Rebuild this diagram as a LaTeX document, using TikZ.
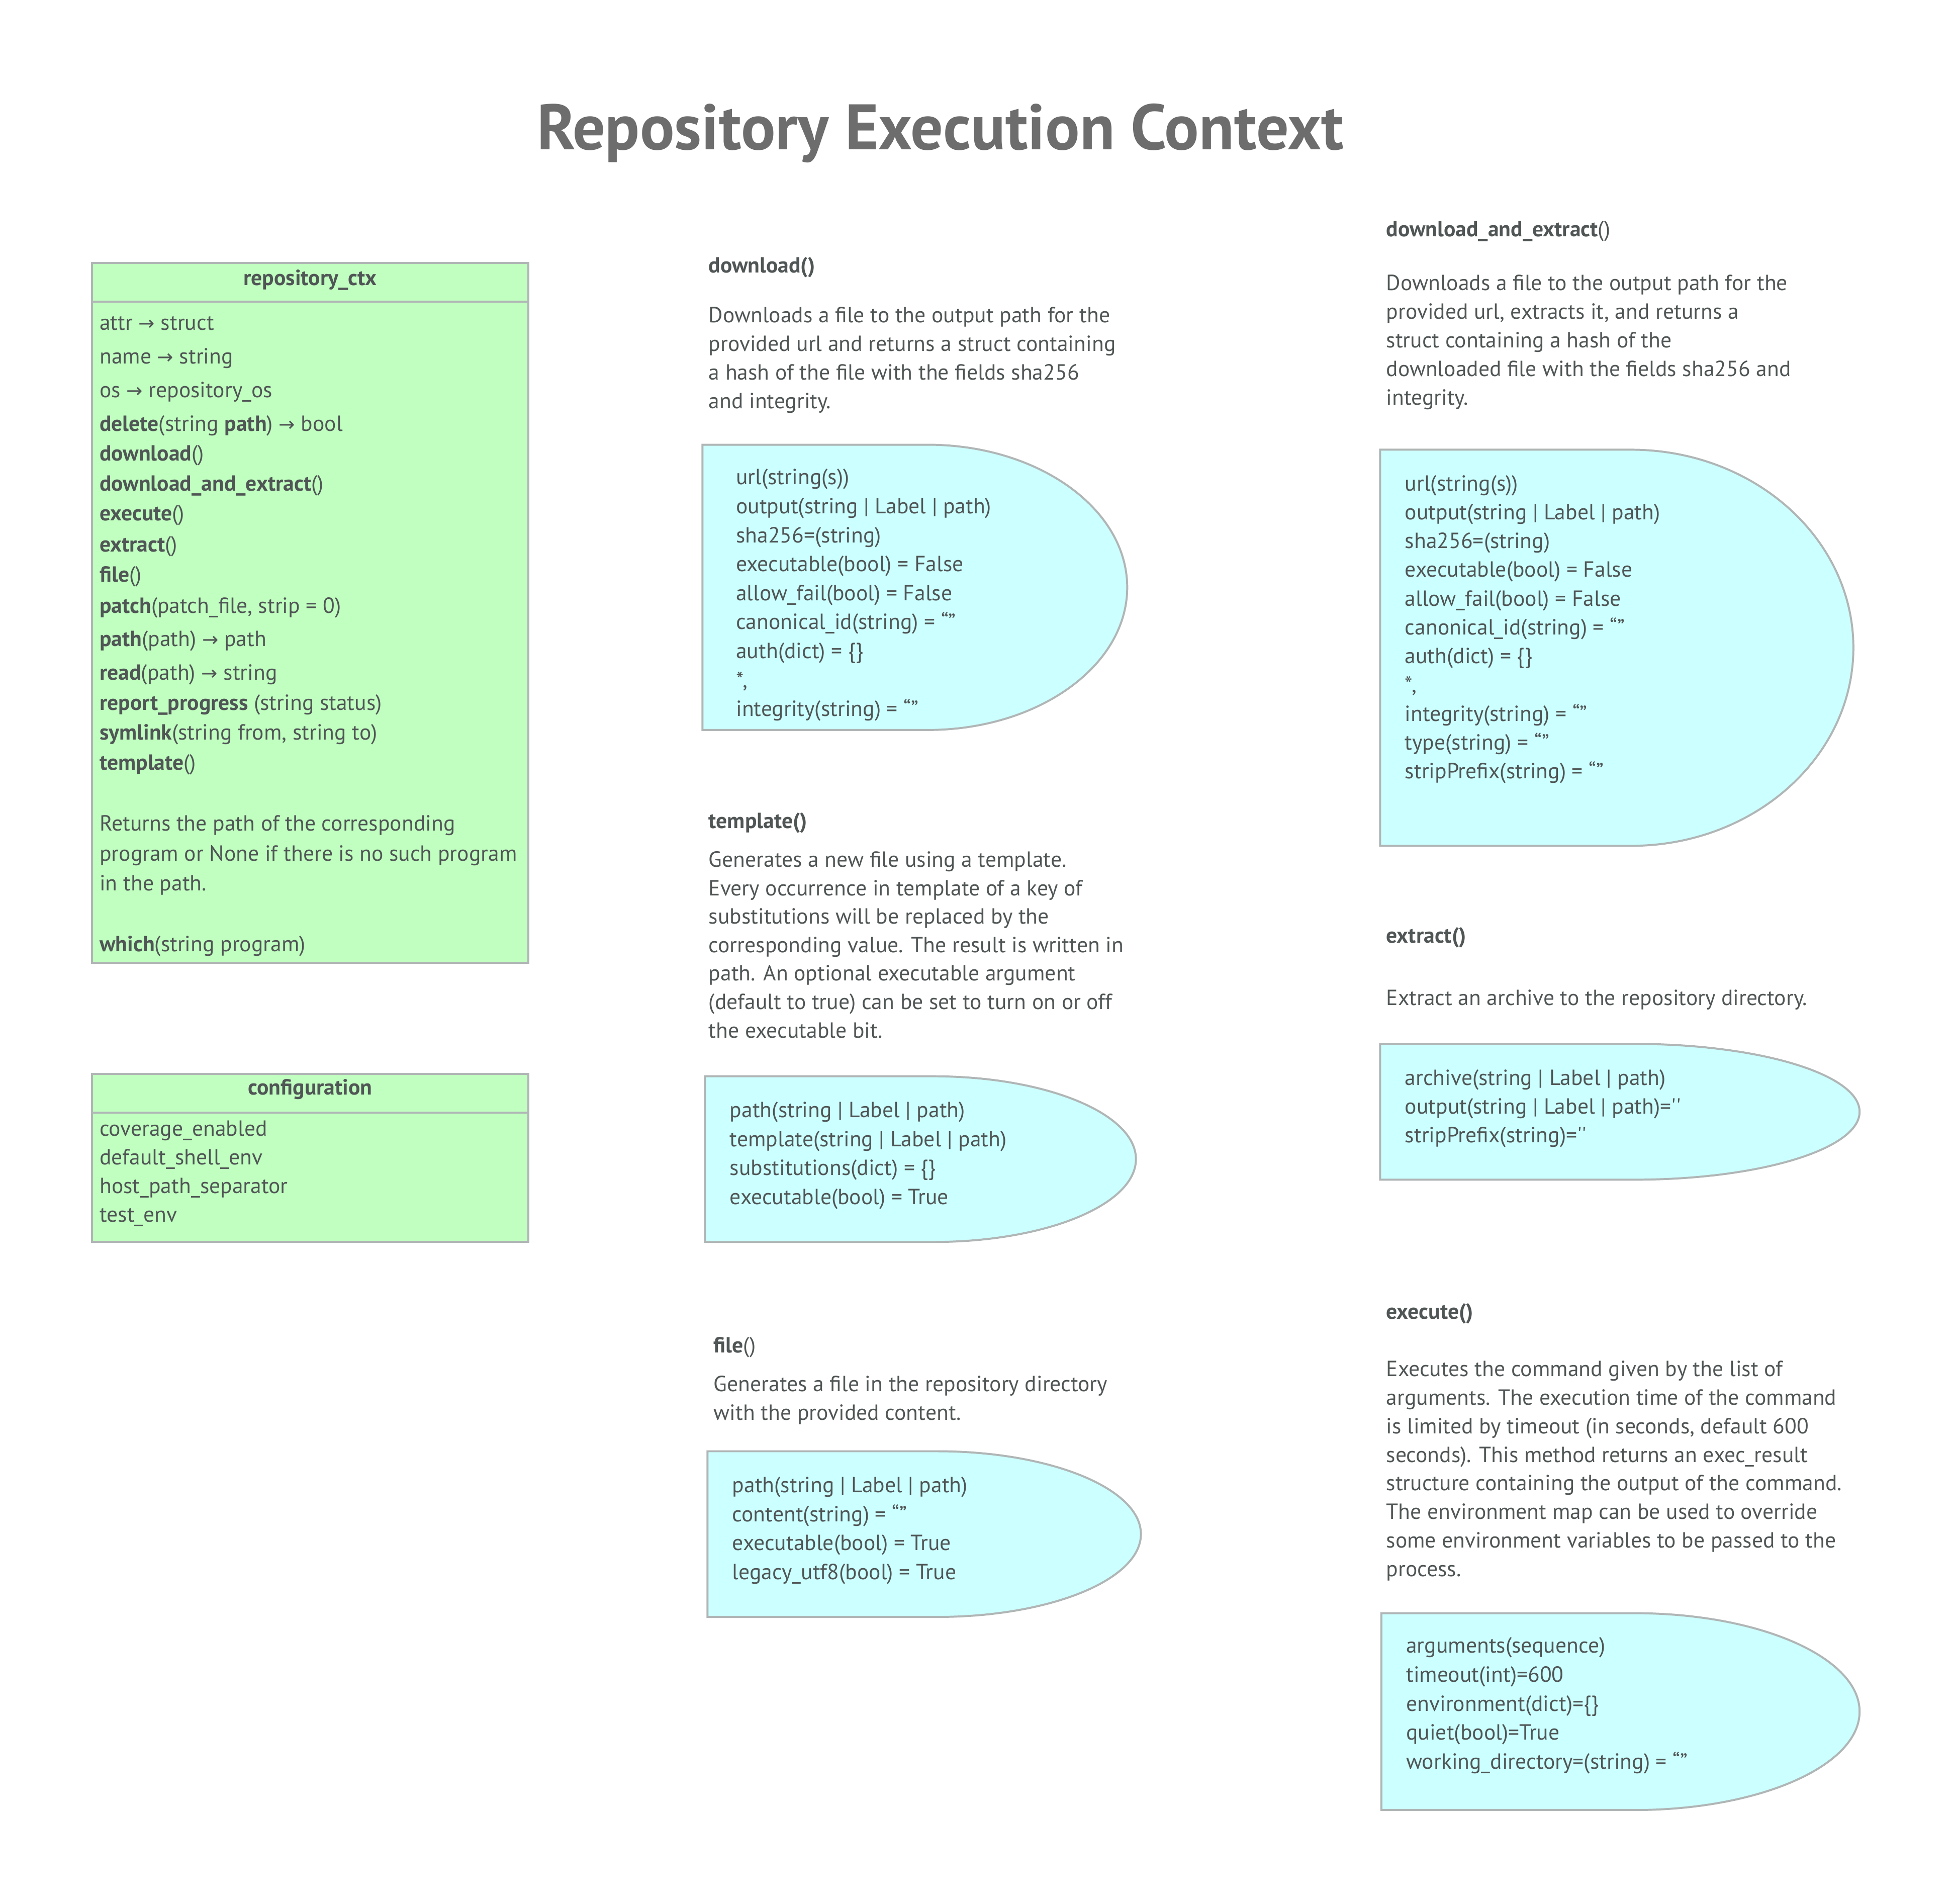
\documentclass[tikz,border=0pt]{standalone}
\usepackage{fontspec}
\setmainfont{PT Sans}
\newfontfamily\arrowfont{DejaVu Sans}
\definecolor{ink}{HTML}{505555}
\definecolor{titleink}{HTML}{6D6D6D}
\definecolor{edge}{HTML}{B0B5B5}
\definecolor{classgreen}{HTML}{C0FFC0}
\definecolor{paramcyan}{HTML}{CCFFFF}
\newcommand\ar{{\arrowfont\fontsize{7.8}{8}\selectfont →}}
\newcommand\dshape[5]{% name, x1, y1, x2, y2
  \pgfmathsetmacro\dxr{0.47*(#4-#2)}%
  \pgfmathsetmacro\dyr{(#5-#3)/2}%
  \pgfmathsetmacro\dxs{#4-\dxr}%
  \pgfmathsetmacro\dym{(#3+#5)/2}%
  \pgfmathsetmacro\dcx{\dxs+0.5523*\dxr}%
  \pgfmathsetmacro\dcya{\dym-0.5523*\dyr}%
  \pgfmathsetmacro\dcyb{\dym+0.5523*\dyr}%
  \path[dshapestyle] (#2,#3) -- (\dxs,#3) .. controls (\dcx,#3) and (#4,\dcya) .. (#4,\dym)
     .. controls (#4,\dcyb) and (\dcx,#5) .. (\dxs,#5) -- (#2,#5) -- cycle;
  \coordinate (#1) at (#2,#3);
}
\begin{document}
\begin{tikzpicture}[x=0.5pt,y=-0.5pt,
  txt/.style={anchor=base west, inner sep=0pt, outer sep=0pt, text=ink, font=\fontsize{8.8}{10}\selectfont},
  hdr/.style={txt, font=\fontsize{8.8}{10}\selectfont\bfseries},
  clsbox/.style={draw=edge, fill=classgreen, line width=0.8pt},
  dshapestyle/.style={draw=edge, fill=paramcyan, line width=0.8pt},
  titlestyle/.style={anchor=base, inner sep=0pt, text=titleink, font=\fontsize{25.8}{30}\selectfont\bfseries}]
\useasboundingbox[fill=white] (0,0) rectangle (1568,1528.4);

% title
\node[titlestyle] (title) at (755,120) {Repository Execution Context};

% ---------- repository_ctx ----------
\draw[clsbox] (74,211) rectangle (424,773);
\draw[draw=edge, line width=0.8pt] (74,242) -- (424,242);
\node[hdr, anchor=base] (rctxh) at (249,229) {repository\_ctx};
\foreach \y/\t [count=\i] in {
  265/{attr \ar{} struct},
  292/{name \ar{} string},
  319/{os \ar{} repository\_os},
  346/{\textbf{delete}(string \textbf{path}) \ar{} bool},
  370/{\textbf{download}()},
  394/{\textbf{download\_and\_extract}()},
  418/{\textbf{execute}()},
  443/{\textbf{extract}()},
  467/{\textbf{file}()},
  492/{\textbf{patch}(patch\_file, strip = 0)},
  519/{\textbf{path}(path) \ar{} path},
  546/{\textbf{read}(path) \ar{} string},
  570/{\textbf{report\_progress} (string status)},
  594/{\textbf{symlink}(string from, string to)},
  618/{\textbf{template}()},
  667/{Returns the path of the corresponding},
  691/{program or None if there is no such program},
  715/{in the path.},
  764/{\textbf{which}(string program)}}
  \node[txt] (rctx\i) at (80,\y) {\t};

% ---------- configuration ----------
\draw[clsbox] (74,862) rectangle (424,997);
\draw[draw=edge, line width=0.8pt] (74,893) -- (424,893);
\node[hdr, anchor=base] (confh) at (249,879) {configuration};
\foreach \t [count=\i] in {coverage\_enabled, default\_shell\_env, host\_path\_separator, test\_env}
  \node[txt] (conf\i) at (80,{912+23*(\i-1)}) {\t};

% ---------- download() ----------
\node[hdr] (dlh) at (569,219) {download()};
\foreach \t [count=\i] in {
  {Downloads a file to the output path for the},
  {provided url and returns a struct containing},
  {a hash of the file with the fields sha256},
  {and integrity.}}
  \node[txt] (dld\i) at (569,{259+23*(\i-1)}) {\t};
\dshape{dls}{564}{357}{905}{586}
\foreach \t [count=\i] in {
  {url(string(s))},
  {output(string | Label | path)},
  {sha256=(string)},
  {executable(bool) = False},
  {allow\_fail(bool) = False},
  {canonical\_id(string) = “”},
  {auth(dict) = \{\}},
  {*,},
  {integrity(string) = “”}}
  \node[txt] (dlp\i) at (591,{389+23.25*(\i-1)}) {\t};

% ---------- template() ----------
\node[hdr] (tph) at (569,665) {template()};
\foreach \t [count=\i] in {
  {Generates a new file using a template.},
  {Every occurrence in template of a key of},
  {substitutions will be replaced by the},
  {corresponding value. The result is written in},
  {path. An optional executable argument},
  {(default to true) can be set to turn on or off},
  {the executable bit.}}
  \node[txt] (tpd\i) at (569,{696+22.85*(\i-1)}) {\t};
\dshape{tps}{566}{864}{912}{997}
\foreach \t [count=\i] in {
  {path(string | Label | path)},
  {template(string | Label | path)},
  {substitutions(dict) = \{\}},
  {executable(bool) = True}}
  \node[txt] (tpp\i) at (586,{897+23.3*(\i-1)}) {\t};

% ---------- file() ----------
\node[txt] (fih) at (573,1086) {\textbf{file}()};
\foreach \t [count=\i] in {
  {Generates a file in the repository directory},
  {with the provided content.}}
  \node[txt] (fid\i) at (573,{1117+23*(\i-1)}) {\t};
\dshape{fis}{568}{1165}{916}{1298}
\foreach \t [count=\i] in {
  {path(string | Label | path)},
  {content(string) = “”},
  {executable(bool) = True},
  {legacy\_utf8(bool) = True}}
  \node[txt] (fip\i) at (588,{1198+23.3*(\i-1)}) {\t};

% ---------- download_and_extract() ----------
\node[txt] (daeh) at (1113,190) {\textbf{download\_and\_extract}()};
\foreach \t [count=\i] in {
  {Downloads a file to the output path for the},
  {provided url, extracts it, and returns a},
  {struct containing a hash of the},
  {downloaded file with the fields sha256 and},
  {integrity.}}
  \node[txt] (daed\i) at (1113,{233+23*(\i-1)}) {\t};
\dshape{daes}{1108}{361}{1488}{679}
\foreach \t [count=\i] in {
  {url(string(s))},
  {output(string | Label | path)},
  {sha256=(string)},
  {executable(bool) = False},
  {allow\_fail(bool) = False},
  {canonical\_id(string) = “”},
  {auth(dict) = \{\}},
  {*,},
  {integrity(string) = “”},
  {type(string) = “”},
  {stripPrefix(string) = “”}}
  \node[txt] (daep\i) at (1128,{394+23.1*(\i-1)}) {\t};

% ---------- extract() ----------
\node[hdr] (exh) at (1113,757) {extract()};
\node[txt] (exd1) at (1113,807) {Extract an archive to the repository directory.};
\dshape{exs}{1108}{838}{1493}{947}
\foreach \t [count=\i] in {
  {archive(string | Label | path)},
  {output(string | Label | path)=\textquotesingle\textquotesingle},
  {stripPrefix(string)=\textquotesingle\textquotesingle}}
  \node[txt] (exp\i) at (1128,{871+23*(\i-1)}) {\t};

% ---------- execute() ----------
\node[hdr] (xeh) at (1113,1059) {execute()};
\foreach \t [count=\i] in {
  {Executes the command given by the list of},
  {arguments. The execution time of the command},
  {is limited by timeout (in seconds, default 600},
  {seconds). This method returns an exec\_result},
  {structure containing the output of the command.},
  {The environment map can be used to override},
  {some environment variables to be passed to the},
  {process.}}
  \node[txt] (xed\i) at (1113,{1105+22.9*(\i-1)}) {\t};
\dshape{xes}{1109}{1295}{1493}{1453}
\foreach \t [count=\i] in {
  {arguments(sequence)},
  {timeout(int)=600},
  {environment(dict)=\{\}},
  {quiet(bool)=True},
  {working\_directory=(string) = “”}}
  \node[txt] (xep\i) at (1129,{1327+23.25*(\i-1)}) {\t};
\end{tikzpicture}
\end{document}
